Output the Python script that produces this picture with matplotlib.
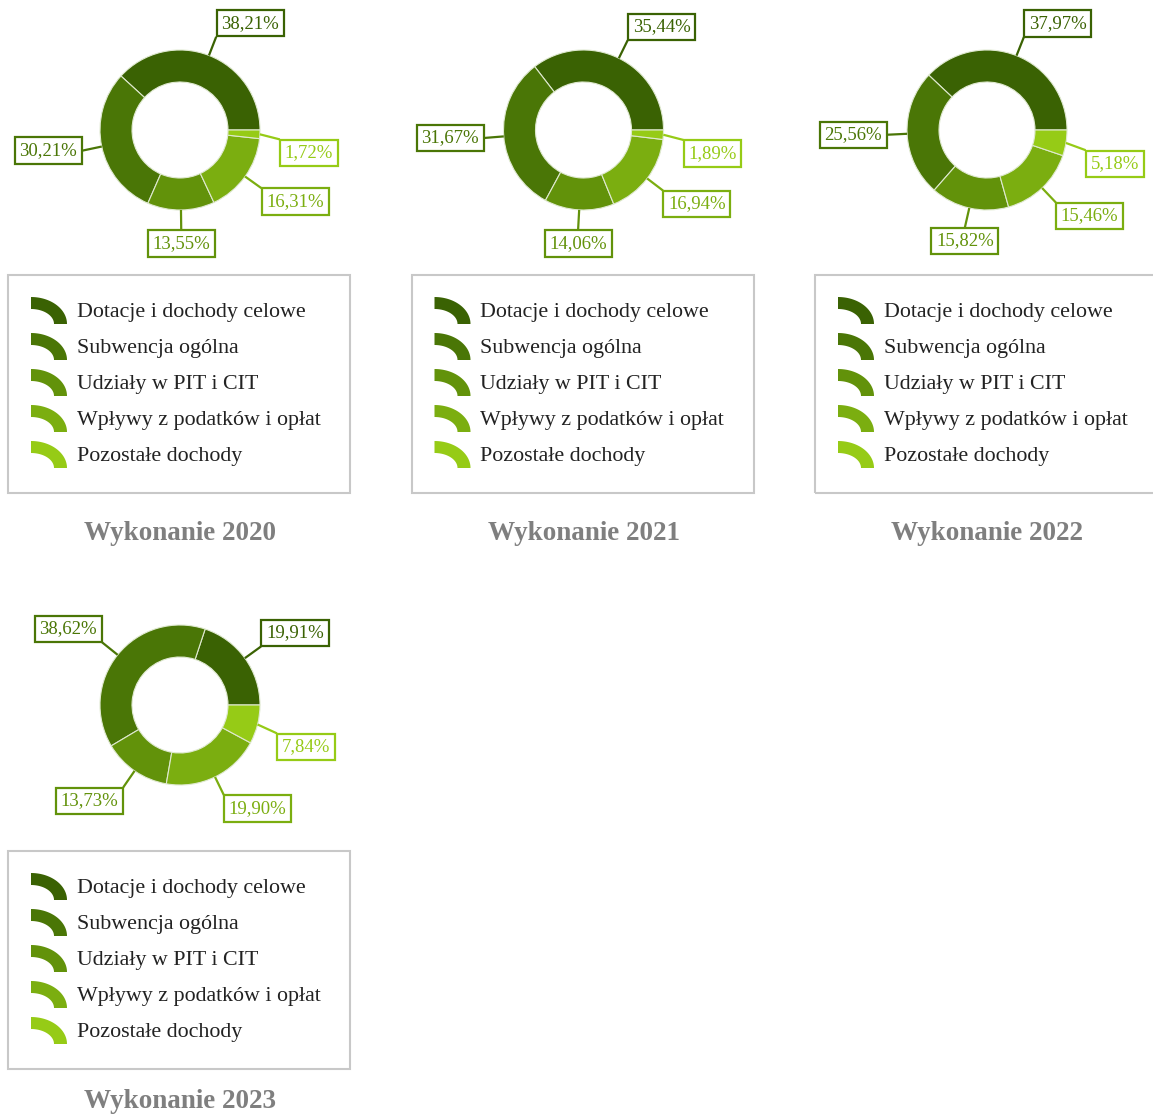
import matplotlib.pyplot as plt
import numpy as np

plt.rcParams['font.family'] = ['Liberation Serif', 'DejaVu Serif']

# dane
categories = ['Dotacje i dochody celowe', 'Subwencja ogólna', 'Udziały w PIT i CIT',
              'Wpływy z podatków i opłat', 'Pozostałe dochody']
years = ['2020', '2021', '2022', '2023']
v2020 = [38.21, 30.21, 13.55, 16.31, 1.72]
v2021 = [35.44, 31.67, 14.06, 16.94, 1.89]
v2022 = [37.97, 25.56, 15.82, 15.46, 5.18]
v2023 = [19.91, 38.62, 13.73, 19.90, 7.84]
values = [v2020, v2021, v2022, v2023]
colors = ['#3a6203', '#4a7606', '#62920a', '#7bae10', '#96cb16']

W, H = 1153, 1117
fig = plt.figure(figsize=(W / 100, H / 100), dpi=100)
ax = fig.add_axes([0, 0, 1, 1])


def Y(py):
    return H - py


R = 80
for i, (year, vals) in enumerate(zip(years, values)):
    col = i % 3
    row = i // 3
    cx = 180 + 403.5 * col
    cy = 130 + 575 * row
    wedges, _ = ax.pie(vals, colors=colors, startangle=0, counterclock=True,
                       radius=R, center=(cx, Y(cy)),
                       wedgeprops=dict(width=32, edgecolor='#dfe9d0', linewidth=0.8))
    # etykiety z procentami
    for w, v, c in zip(wedges, vals, colors):
        ang = np.deg2rad((w.theta1 + w.theta2) / 2)
        ca, sa = np.cos(ang), np.sin(ang)
        x0, y0 = cx + R * ca, Y(cy) + R * sa
        x1, y1 = cx + 1.25 * R * ca, Y(cy) + 1.25 * R * sa
        if ca > 0 and -0.5 <= sa < 0:
            # male wycinki po prawej - etykieta lekko ponizej
            y1 -= 4
        ax.plot([x0, x1], [y0, y1], color=c, lw=1.6, solid_capstyle='butt')
        if abs(ca) < 0.3:
            ha, dx = 'center', 0
        elif ca > 0:
            ha, dx = 'left', 5
        else:
            ha, dx = 'right', -5
        if sa > 0.5:
            va, dy = 'bottom', 5
        elif sa < -0.5 or (ca > 0 and sa < 0):
            va, dy = 'top', -5
        else:
            va, dy = 'center', 0
        txt = f'{v:.2f}'.replace('.', ',') + '%'
        ax.text(x1 + dx, y1 + dy, txt, ha=ha, va=va, fontsize=13.5, color=c,
                bbox=dict(boxstyle='square,pad=0.25', fc='white', ec=c, lw=1.6))

    # legenda
    lx = 8 + 403.5 * col
    ly = 275 + 576 * row
    ax.add_patch(plt.Rectangle((lx, Y(ly + 218)), 342, 218, fill=False,
                               ec='#c8c8c8', lw=1.5))
    t = np.linspace(0, np.pi / 2, 40)
    for k, (name, c) in enumerate(zip(categories, colors)):
        yy = ly + 37 + 36 * k
        bx, by = lx + 23, Y(yy + 12)
        xs = np.concatenate([bx + 36 * np.cos(t), bx + 23 * np.cos(t[::-1])])
        ys = np.concatenate([by + 27 * np.sin(t), by + 15 * np.sin(t[::-1])])
        ax.fill(xs, ys, color=c, lw=0)
        ax.text(lx + 69, Y(yy), name, ha='left', va='center', fontsize=15.8,
                color='#222222')

    ty = 533 if row == 0 else 1101
    ax.text(cx, Y(ty), 'Wykonanie ' + year, ha='center', va='center',
            fontsize=19.5, fontweight='bold', color='#7f7f7f')

ax.set_xlim(0, W)
ax.set_ylim(0, H)
ax.set_aspect('auto')
ax.axis('off')
fig.savefig('out.png', dpi=100)
